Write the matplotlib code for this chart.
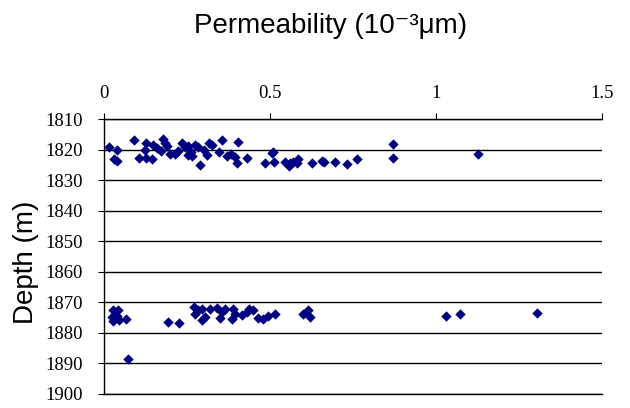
import matplotlib
matplotlib.use("Agg")
import matplotlib.pyplot as plt

# Upper interval (around 1820 m)
perm_upper = [0.016, 0.038, 0.030, 0.038, 0.091, 0.106, 0.127, 0.123, 0.127, 0.144,
              0.149, 0.172, 0.177, 0.184, 0.189, 0.199, 0.214, 0.234, 0.244,
              0.254, 0.262, 0.254, 0.274, 0.284, 0.289, 0.309, 0.316, 0.324, 0.347,
              0.354, 0.370, 0.384, 0.395, 0.400, 0.405, 0.430, 0.485, 0.507,
              0.508, 0.512, 0.545, 0.560, 0.568, 0.580, 0.585, 0.558, 0.626, 0.656,
              0.663, 0.696, 0.733, 0.763, 0.871, 0.871, 1.127, 0.160, 0.222, 0.265, 0.300]
depth_upper = [1819.3, 1820.2, 1823.2, 1823.7, 1816.9, 1822.7, 1817.8, 1820.2, 1822.7, 1823.2,
               1818.5, 1820.5, 1816.7, 1818.0, 1818.9, 1821.5, 1821.5, 1818.0, 1819.3,
               1818.9, 1820.7, 1821.8, 1818.5, 1819.3, 1824.9, 1821.8, 1818.0, 1818.5, 1820.7,
               1816.9, 1822.1, 1821.5, 1822.4, 1824.5, 1817.4, 1822.6, 1824.5, 1821.2,
               1820.7, 1824.0, 1824.0, 1824.5, 1824.0, 1824.3, 1823.2, 1825.4, 1824.3, 1823.7,
               1824.0, 1824.0, 1824.8, 1823.2, 1818.2, 1822.9, 1821.5, 1819.5, 1820.5, 1822.0, 1820.0]

# Lower interval (around 1873 m)
perm_lower = [0.026, 0.043, 0.023, 0.038, 0.028, 0.046, 0.066, 0.194, 0.226,
              0.272, 0.284, 0.296, 0.274, 0.294, 0.304, 0.319, 0.339, 0.349, 0.356,
              0.364, 0.385, 0.390, 0.395, 0.415, 0.430, 0.437, 0.450, 0.465, 0.480,
              0.495, 0.515, 0.600, 0.613, 0.620, 0.073, 1.030, 1.072, 1.303]
depth_lower = [1872.5, 1872.5, 1874.7, 1874.4, 1876.2, 1875.8, 1875.3, 1876.5, 1876.8,
               1871.5, 1872.6, 1872.3, 1873.7, 1875.9, 1874.8, 1872.3, 1871.9, 1875.1, 1873.2,
               1872.1, 1875.6, 1872.1, 1873.7, 1874.3, 1873.2, 1872.1, 1872.6, 1875.1, 1875.3,
               1874.5, 1873.7, 1873.7, 1872.6, 1874.8, 1888.5, 1874.5, 1873.9, 1873.4]

x_ticks = [0, 0.5, 1, 1.5]
x_labels = ["0", "0.5", "1", "1.5"]
y_ticks = [1810, 1820, 1830, 1840, 1850, 1860, 1870, 1880, 1890, 1900]

fig = plt.figure(figsize=(6.3, 4.08), dpi=100)
ax = fig.add_axes([104/630, 1-394/408, (602-104)/630, (394-119)/408])

ax.scatter(perm_upper + perm_lower, depth_upper + depth_lower, marker='D', s=28,
           color='#000080', linewidths=0, zorder=3, clip_on=False)

ax.set_xlim(0, 1.5)
ax.set_ylim(1900, 1810)
ax.xaxis.tick_top()
ax.set_xticks(x_ticks)
ax.set_xticklabels(x_labels, family='Liberation Serif', fontsize=13.5)
ax.set_yticks(y_ticks)
ax.set_yticklabels([str(v) for v in y_ticks], family='Liberation Serif', fontsize=13.5)
ax.tick_params(axis='x', direction='out', length=4, width=0.8, pad=8, colors='black')
ax.tick_params(axis='y', direction='out', length=4, width=0.8, pad=11, colors='black')
ax.grid(axis='y', color='black', linewidth=1.0, zorder=1)
ax.spines['right'].set_visible(False)
for s in ['top', 'left', 'bottom']:
    ax.spines[s].set_linewidth(1.0)

fig.text(331/630, 1-26/408, "Permeability (10\u207b\u00b3\u03bcm)", ha='center', va='center',
         fontsize=20, family=['Liberation Sans', 'DejaVu Sans'])
fig.text(26/630, 1-262/408, "Depth (m)", ha='center', va='center', rotation=90,
         fontsize=20, family=['Liberation Sans', 'DejaVu Sans'])

fig.savefig("out.png", dpi=100)
